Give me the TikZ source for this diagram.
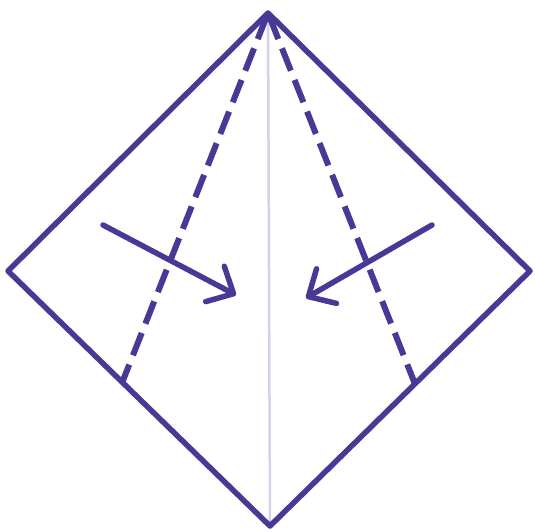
\documentclass[tikz,border=0pt]{standalone}
\usepackage{tikz}
\usetikzlibrary{arrows.meta}
\definecolor{foldblue}{RGB}{70,58,150}
\definecolor{creasegray}{RGB}{212,209,233}

\begin{document}
\begin{tikzpicture}[x=1pt,y=-1pt,
  edge/.style={draw=foldblue,line width=5.5pt,line join=round,line cap=round},
  valley/.style={draw=foldblue,line width=6pt,dash pattern=on 24pt off 10pt,dash phase=30pt},
  crease/.style={draw=creasegray,line width=2.5pt},
  push/.style={draw=foldblue,line width=5.5pt,line cap=round,
    -{Straight Barb[length=21pt,width=40pt,line cap=round,line join=round]}}]
\useasboundingbox (0,0) rectangle (535,531);
\coordinate (top) at (268,13);
\coordinate (left) at (8,271);
\coordinate (right) at (530,271);
\coordinate (bottom) at (270,526);
\coordinate (lfold) at (122,383);
\coordinate (rfold) at (415,384);
\coordinate (lstart) at (103,225);
\coordinate (lend) at (236,295);
\coordinate (rstart) at (432,225);
\coordinate (rend) at (306,298);
\draw[crease] (top)--(bottom);
\draw[valley] (top)--(lfold);
\draw[valley] (top)--(rfold);
\draw[edge] (top)--(right)--(bottom)--(left)--cycle;
\draw[push] (lstart)--(lend);
\draw[push] (rstart)--(rend);
\end{tikzpicture}
\end{document}
